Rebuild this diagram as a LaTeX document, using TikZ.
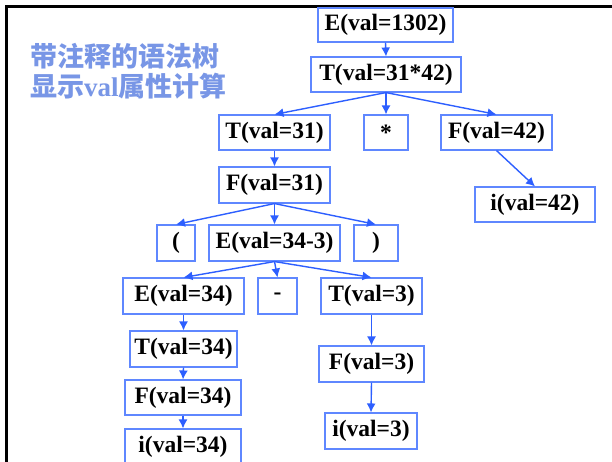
\documentclass[tikz,border=0pt]{standalone}
\usepackage{fontspec}
\setmainfont{Liberation Serif}
\newfontfamily\cjk{Noto Sans CJK SC}
\usetikzlibrary{arrows.meta}
\definecolor{boxblue}{RGB}{95,135,255}
\definecolor{arrblue}{RGB}{45,95,255}
\definecolor{titleblue}{RGB}{120,150,230}
\tikzset{
  tbox/.style={draw=boxblue, line width=1.1pt, fill=white, inner sep=0pt,
    font=\fontsize{23.5}{26}\selectfont\bfseries, text=black},
  arr/.style={draw=arrblue, line width=1.4pt, -{Latex[length=9pt,width=9pt]}},
}
\begin{document}
\begin{tikzpicture}[x=1pt,y=-1pt]
\useasboundingbox (0,0) rectangle (612,461);
\clip (0,0) rectangle (612,461);
\fill[white] (0,0) rectangle (612,461);
\draw[line width=3pt, black] (6.5,470) -- (6.5,6.5) -- (620,6.5);
\node[anchor=west, inner sep=0pt, align=left, text=titleblue,
  font=\fontsize{27}{30}\selectfont\bfseries] (title) at (30,71.5)
  {\cjk 带注释的语法树\\\cjk 显示{\rmfamily\bfseries val}属性计算};
% nodes
\node[tbox, minimum width=135pt, minimum height=34pt] (e1302) at (385.5,25) {E(val=1302)};
\node[tbox, minimum width=150pt, minimum height=35pt] (t3142) at (386,74.5) {T(val=31*42)};
\node[tbox, minimum width=111pt, minimum height=35pt] (t31) at (274.5,132.5) {T(val=31)};
\node[tbox, minimum width=44pt, minimum height=35pt] (star) at (386,132.5) {*};
\node[tbox, minimum width=111pt, minimum height=35pt] (f42) at (496.5,132.5) {F(val=42)};
\node[tbox, minimum width=120pt, minimum height=35pt] (i42) at (535,204.5) {i(val=42)};
\node[tbox, minimum width=111pt, minimum height=36pt] (f31) at (274.5,185) {F(val=31)};
\node[tbox, minimum width=38pt, minimum height=36pt] (lp) at (176,243) {(};
\node[tbox, minimum width=131pt, minimum height=36pt] (e343) at (274.5,243) {E(val=34-3)};
\node[tbox, minimum width=44pt, minimum height=36pt] (rp) at (376,243) {)};
\node[tbox, minimum width=121pt, minimum height=36pt] (e34) at (183.5,296) {E(val=34)};
\node[tbox, minimum width=39pt, minimum height=36pt] (minus) at (277.5,296) {-};
\node[tbox, minimum width=101pt, minimum height=36pt] (t3) at (371.5,296) {T(val=3)};
\node[tbox, minimum width=107pt, minimum height=36pt] (t34) at (183.5,349) {T(val=34)};
\node[tbox, minimum width=116pt, minimum height=35pt] (f34) at (183,397.5) {F(val=34)};
\node[tbox, minimum width=116pt, minimum height=36pt] (i34) at (183,447) {i(val=34)};
\node[tbox, minimum width=105pt, minimum height=36pt] (f3) at (371.5,364) {F(val=3)};
\node[tbox, minimum width=92pt, minimum height=36pt] (i3) at (371,431) {i(val=3)};
% connectors
\draw[arr] (e1302.south) -- (t3142.north);
\draw[arr] (t3142.south) -- (t31.north);
\draw[arr] (t3142.south) -- (star.north);
\draw[arr] (t3142.south) -- (f42.north);
\draw[arr] (f42.south) -- (i42.north);
\draw[arr] (t31.south) -- (f31.north);
\draw[arr] (f31.south) -- (lp.north);
\draw[arr] (f31.south) -- (e343.north);
\draw[arr] (f31.south) -- (rp.north);
\draw[arr] (e343.south) -- (e34.north);
\draw[arr] (e343.south) -- (minus.north);
\draw[arr] (e343.south) -- (t3.north);
\draw[arr] (e34.south) -- (t34.north);
\draw[arr] (t34.south) -- (f34.north);
\draw[arr] (f34.south) -- (i34.north);
\draw[arr] (t3.south) -- (f3.north);
\draw[arr] (f3.south) -- (i3.north);
\end{tikzpicture}
\end{document}
